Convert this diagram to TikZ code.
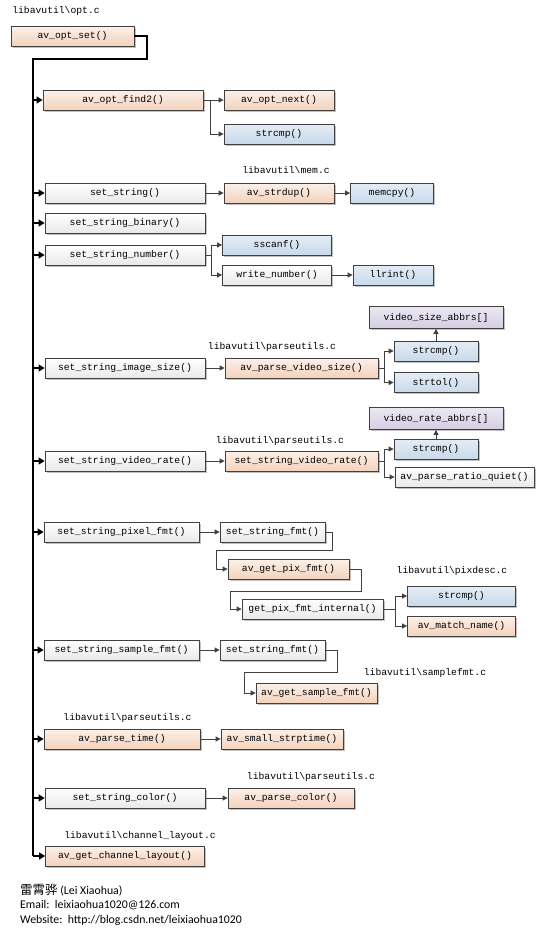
\documentclass[tikz,border=0pt]{standalone}
\usepackage{fontspec}
\setmonofont{Liberation Mono}
\newfontfamily\cjkfont{Noto Sans CJK SC}
\newfontfamily\footfont{Carlito}
\usetikzlibrary{shadows,arrows.meta}
\definecolor{otop}{HTML}{FCF0E8}
\definecolor{obot}{HTML}{F3D2BC}
\definecolor{btop}{HTML}{E4EDF6}
\definecolor{bbot}{HTML}{C8D9EA}
\definecolor{ptop}{HTML}{ECE8F2}
\definecolor{pbot}{HTML}{D4CDE3}
\definecolor{wtop}{HTML}{FFFFFF}
\definecolor{wbot}{HTML}{E9E9E9}
\definecolor{edge}{HTML}{404040}
\tikzset{
  fnbox/.style={draw=edge, line width=0.8pt, minimum height=20, inner sep=0pt,
    font=\ttfamily\fontsize{9.7}{11}\selectfont,
    drop shadow={shadow xshift=1.6pt, shadow yshift=-1.6pt, fill=black!40, opacity=0.6}},
  obox/.style={fnbox, top color=otop, bottom color=obot},
  bbox/.style={fnbox, top color=btop, bottom color=bbot},
  pbox/.style={fnbox, top color=ptop, bottom color=pbot, minimum height=22},
  wbox/.style={fnbox, top color=wtop, bottom color=wbot},
  lbl/.style={font=\ttfamily\fontsize{9.7}{11}\selectfont, inner sep=0pt},
  conn/.style={draw=edge, line width=0.9pt, -{Triangle[length=5pt,width=5pt]}},
  plainconn/.style={draw=edge, line width=0.9pt},
  trunk/.style={draw=black, line width=2pt},
  tarrow/.style={draw=black, line width=1.2pt, -{Triangle[length=6pt,width=7pt]}},
  foot/.style={anchor=west, inner sep=0pt, font=\footfont\fontsize{11.8}{13}\selectfont}
}
\begin{document}
\begin{tikzpicture}[x=1pt,y=-1pt]
\useasboundingbox (0,0) rectangle (540,930);
\fill[white] (0,0) rectangle (540,930);

% labels
\node[lbl] (Lopt) at (56,11) {libavutil\textbackslash opt.c};
\node[lbl] (Lmem) at (286,170) {libavutil\textbackslash mem.c};
\node[lbl] (Lpu1) at (272,347) {libavutil\textbackslash parseutils.c};
\node[lbl] (Lpu2) at (280,441) {libavutil\textbackslash parseutils.c};
\node[lbl] (Lpix) at (452,571) {libavutil\textbackslash pixdesc.c};
\node[lbl] (Lsmp) at (425,673) {libavutil\textbackslash samplefmt.c};
\node[lbl] (Lpu3) at (127.5,718) {libavutil\textbackslash parseutils.c};
\node[lbl] (Lpu4) at (311,777) {libavutil\textbackslash parseutils.c};
\node[lbl] (Lch) at (140,836) {libavutil\textbackslash channel\_layout.c};

% boxes
\node[obox, minimum width=123] (optset) at (72.5,36) {av\_opt\_set()};
\node[obox, minimum width=160] (find2) at (123,100) {av\_opt\_find2()};
\node[obox, minimum width=110] (next) at (279,100) {av\_opt\_next()};
\node[bbox, minimum width=110] (cmpA) at (279,134) {strcmp()};

\node[wbox, minimum width=160] (sstr) at (125,193) {set\_string()};
\node[obox, minimum width=110] (strdup) at (279,193) {av\_strdup()};
\node[bbox, minimum width=83] (memcpy) at (392,193) {memcpy()};
\node[wbox, minimum width=160] (sbin) at (125,223) {set\_string\_binary()};
\node[wbox, minimum width=160] (snum) at (125,255) {set\_string\_number()};
\node[bbox, minimum width=109] (sscanf) at (277,245) {sscanf()};
\node[wbox, minimum width=109] (wnum) at (277,275) {write\_number()};
\node[bbox, minimum width=80] (llrint) at (393,275) {llrint()};

\node[pbox, minimum width=134] (vsab) at (436,317.5) {video\_size\_abbrs[]};
\node[wbox, minimum width=160] (simg) at (125,368) {set\_string\_image\_size()};
\node[obox, minimum width=153] (pvs) at (301.5,368) {av\_parse\_video\_size()};
\node[bbox, minimum width=84] (cmpB) at (436,351) {strcmp()};
\node[bbox, minimum width=84] (strtol) at (436,382.5) {strtol()};

\node[pbox, minimum width=134] (vrab) at (436,418.5) {video\_rate\_abbrs[]};
\node[wbox, minimum width=160] (svr) at (125,461) {set\_string\_video\_rate()};
\node[obox, minimum width=153] (svr2) at (301.5,461) {set\_string\_video\_rate()};
\node[bbox, minimum width=84] (cmpC) at (436,449) {strcmp()};
\node[wbox, minimum width=139] (ratio) at (464.5,477) {av\_parse\_ratio\_quiet()};

\node[wbox, minimum width=155] (spix) at (121.5,532) {set\_string\_pixel\_fmt()};
\node[wbox, minimum width=105] (sfmtA) at (272.5,532) {set\_string\_fmt()};
\node[obox, minimum width=121] (gpf) at (288.5,569) {av\_get\_pix\_fmt()};
\node[wbox, minimum width=141] (gpfi) at (312.5,609) {get\_pix\_fmt\_internal()};
\node[bbox, minimum width=108] (cmpD) at (461.5,596) {strcmp()};
\node[obox, minimum width=108] (match) at (461.5,626) {av\_match\_name()};

\node[wbox, minimum width=155] (ssmp) at (121.5,650) {set\_string\_sample\_fmt()};
\node[wbox, minimum width=105] (sfmtB) at (272.5,650) {set\_string\_fmt()};
\node[obox, minimum width=121] (gsf) at (316.5,693) {av\_get\_sample\_fmt()};

\node[obox, minimum width=156] (ptime) at (122,739) {av\_parse\_time()};
\node[obox, minimum width=122] (strp) at (282,739) {av\_small\_strptime()};

\node[wbox, minimum width=160] (scol) at (125,798) {set\_string\_color()};
\node[obox, minimum width=126] (pcol) at (291,798) {av\_parse\_color()};

\node[obox, minimum width=159] (chan) at (125,856) {av\_get\_channel\_layout()};

% trunk
\coordinate (tk) at (33,59);
\draw[trunk] (optset.east) -- (146.5,36) -- (146.5,59) -- (tk) -- (33,856);
\foreach \n in {find2,sstr,sbin,snum,simg,svr,spix,ssmp,ptime,scol,chan}
  \draw[tarrow] (tk |- \n.west) -- (\n.west);

% connectors
\draw[conn] (find2.east) -- (next.west);
\draw[conn] (find2.east) -- (210.5,100) |- (cmpA.west);
\draw[conn] (sstr.east) -- (strdup.west);
\draw[conn] (strdup.east) -- (memcpy.west);
\draw[plainconn] (snum.east) -- (211,255);
\draw[conn] (211,255) |- (sscanf.west);
\draw[conn] (211,255) |- (wnum.west);
\draw[conn] (wnum.east) -- (llrint.west);

\draw[conn] (simg.east) -- (pvs.west);
\draw[plainconn] (pvs.east) -- (384,368);
\draw[conn] (384,368) |- (cmpB.west);
\draw[conn] (384,368) |- (strtol.west);
\draw[conn] (cmpB.north) -- (vsab.south);

\draw[conn] (svr.east) -- (svr2.west);
\draw[plainconn] (svr2.east) -- (384,461);
\draw[conn] (384,461) |- (cmpC.west);
\draw[conn] (384,461) |- (ratio.west);
\draw[conn] (cmpC.north) -- (vrab.south);

\draw[conn] (spix.east) -- (sfmtA.west);
\draw[conn] (sfmtA.east) -| (332,550.5) -- (216.5,550.5) |- (gpf.west);
\draw[conn] (gpf.east) -| (361.5,591) -- (230.5,591) |- (gpfi.west);
\draw[plainconn] (gpfi.east) -- (395,609);
\draw[conn] (395,609) |- (cmpD.west);
\draw[conn] (395,609) |- (match.west);

\draw[conn] (ssmp.east) -- (sfmtB.west);
\draw[conn] (sfmtB.east) -| (337,672) -- (244,672) |- (gsf.west);

\draw[conn] (ptime.east) -- (strp.west);
\draw[conn] (scol.east) -- (pcol.west);

% footer
\node[foot] (f1) at (20,890) {{\cjkfont\fontsize{12.5}{13}\selectfont 雷霄骅} (Lei Xiaohua)};
\node[foot] (f2) at (20,905) {Email:\ \ leixiaohua1020@126.com};
\node[foot] (f3) at (20,920) {Website:\ \ http://blog.csdn.net/leixiaohua1020};
\end{tikzpicture}
\end{document}
